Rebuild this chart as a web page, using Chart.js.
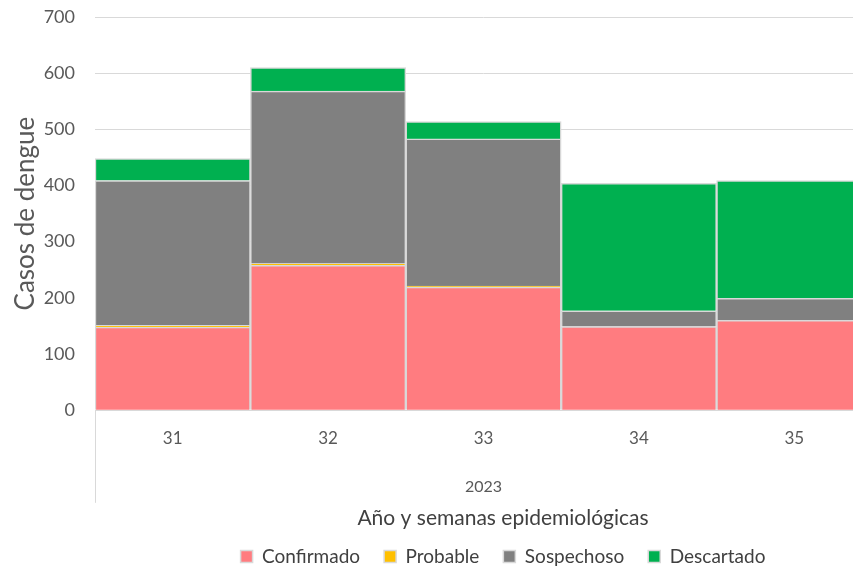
<!DOCTYPE html>
<html>
<head>
<meta charset="utf-8">
<script src="https://cdn.jsdelivr.net/npm/chart.js@4.4.0/dist/chart.umd.min.js"></script>
<style>
  html, body { margin: 0; padding: 0; background: #fff; overflow: hidden; }
  #wrap { width: 1006px; height: 570px; }
</style>
</head>
<body>
<div id="wrap"><canvas id="chart"></canvas></div>
<script>
const weeks = ['31', '32', '33', '34', '35'];
const confirmado = [148, 258, 219, 149, 160];
const probable = [3, 3, 2, 0, 0];
const sospechoso = [258, 307, 262, 28, 39];
const descartado = [39, 42, 31, 227, 210];
const yTicks = [0, 100, 200, 300, 400, 500, 600, 700];

const FONT = 'Lato, "Open Sans", sans-serif';
const TEXT = '#595959';
const GRID = '#d9d9d9';

// the left border of the category axis runs down past the labels
const axisEdge = {
    id: 'axisEdge',
    afterDraw(chart) {
        const { ctx, chartArea } = chart;
        const x = chart.scales.x;
        ctx.save();
        ctx.strokeStyle = GRID;
        ctx.lineWidth = 1;
        ctx.beginPath();
        ctx.moveTo(chartArea.left + 0.5, chartArea.bottom);
        ctx.lineTo(chartArea.left + 0.5, x.bottom + 4);
        ctx.stroke();
        ctx.restore();
    }
};

function ds(label, data, color) {
    return {
        label, data,
        backgroundColor: color,
        borderColor: GRID,
        borderWidth: 1.5,
        categoryPercentage: 1,
        barPercentage: 1
    };
}

new Chart(document.getElementById('chart'), {
    type: 'bar',
    data: {
        labels: weeks,
        datasets: [
            ds('Confirmado', confirmado, '#FF7C80'),
            ds('Probable', probable, '#FFC000'),
            ds('Sospechoso', sospechoso, '#808080'),
            ds('Descartado', descartado, '#00B050')
        ]
    },
    options: {
        responsive: true,
        maintainAspectRatio: false,
        animation: false,
        layout: { padding: { top: 0, right: 0, bottom: -6, left: 0 } },
        scales: {
            x: {
                stacked: true,
                grid: { display: false },
                border: { color: GRID },
                ticks: { color: TEXT, font: { family: FONT, size: 17 }, padding: 10 },
                title: { display: true, text: '2023', color: TEXT, font: { family: FONT, size: 16 }, padding: { top: 19, bottom: 2 } }
            },
            y: {
                stacked: true,
                min: 0, max: 700,
                afterFit: s => { s.width = 95; s.paddingTop = 17; },
                afterBuildTicks: s => { s.ticks = yTicks.map(v => ({ value: v })); },
                grid: { color: GRID, drawTicks: false },
                border: { display: false },
                ticks: { color: TEXT, font: { family: FONT, size: 18 }, padding: 20 },
                title: { display: true, text: 'Casos de dengue', color: TEXT, font: { family: FONT, size: 26 }, padding: { top: 10, bottom: 0 } }
            },
            // empty right margin, the plot runs past the visible edge
            y2: {
                position: 'right',
                grid: { display: false },
                border: { display: false },
                ticks: { display: false },
                afterFit: s => { s.width = 134; s.paddingTop = 0; s.paddingBottom = 0; }
            }
        },
        plugins: {
            tooltip: { enabled: false },
            title: {
                display: true,
                position: 'bottom',
                weight: 500,
                text: 'Año y semanas epidemiológicas',
                color: '#404040',
                font: { family: FONT, size: 21, weight: 'normal' },
                padding: { top: 7, bottom: -8 }
            },
            legend: {
                position: 'bottom',
                labels: {
                    color: '#404040',
                    font: { family: FONT, size: 19 },
                    boxWidth: 12, boxHeight: 12,
                    padding: 24
                }
            }
        }
    },
    plugins: [axisEdge]
});
</script>
</body>
</html>
